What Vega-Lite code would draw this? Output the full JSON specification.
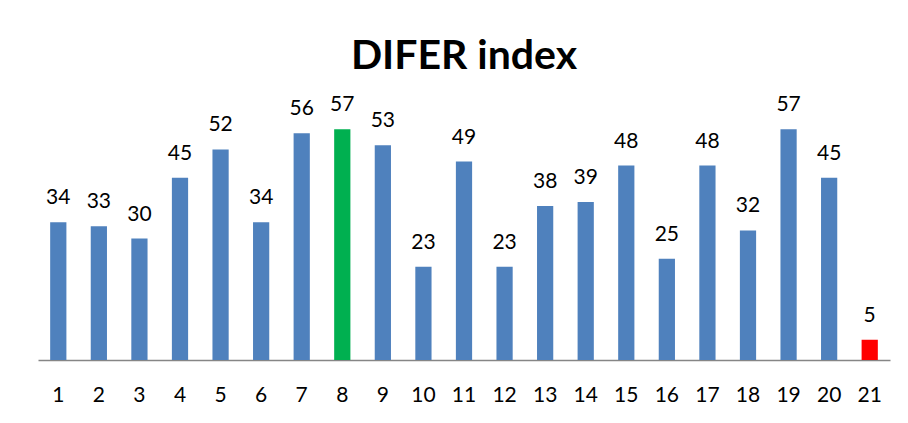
{
  "$schema": "https://vega.github.io/schema/vega-lite/v6.json",
  "autosize": "none",
  "width": 852,
  "height": 243,
  "padding": {"left": 38, "top": 117, "right": 18, "bottom": 63},
  "background": "white",
  "title": {"text": "DIFER index", "font": "Lato", "fontSize": 41, "fontWeight": "bold", "color": "#000000", "anchor": "middle", "baseline": "alphabetic", "offset": -16},
  "config": {"view": {"stroke": null}},
  "data": {"values": [
    {"n": 1, "v": 34}, {"n": 2, "v": 33}, {"n": 3, "v": 30}, {"n": 4, "v": 45},
    {"n": 5, "v": 52}, {"n": 6, "v": 34}, {"n": 7, "v": 56}, {"n": 8, "v": 57},
    {"n": 9, "v": 53}, {"n": 10, "v": 23}, {"n": 11, "v": 49}, {"n": 12, "v": 23},
    {"n": 13, "v": 38}, {"n": 14, "v": 39}, {"n": 15, "v": 48}, {"n": 16, "v": 25},
    {"n": 17, "v": 48}, {"n": 18, "v": 32}, {"n": 19, "v": 57}, {"n": 20, "v": 45},
    {"n": 21, "v": 5}
  ]},
  "encoding": {
    "x": {"field": "n", "type": "ordinal", "scale": {"paddingInner": 0.6, "paddingOuter": 0.3},
      "axis": {"title": null, "labelAngle": 0, "ticks": false, "labelFont": "Lato", "labelFontSize": 21, "labelColor": "#000000", "labelPadding": 24, "domainColor": "#868686", "domainWidth": 1.5}},
    "y": {"field": "v", "type": "quantitative", "scale": {"domain": [0, 60]}, "axis": null}
  },
  "layer": [
    {"mark": {"type": "bar"},
     "encoding": {"color": {"condition": [{"test": "datum.n === 8", "value": "#00B050"}, {"test": "datum.n === 21", "value": "#FF0000"}], "value": "#4F81BD"}}},
    {"mark": {"type": "text", "baseline": "alphabetic", "dy": -18, "font": "Lato", "fontSize": 21, "color": "#000000"},
     "encoding": {"text": {"field": "v", "type": "quantitative"}}}
  ]
}
